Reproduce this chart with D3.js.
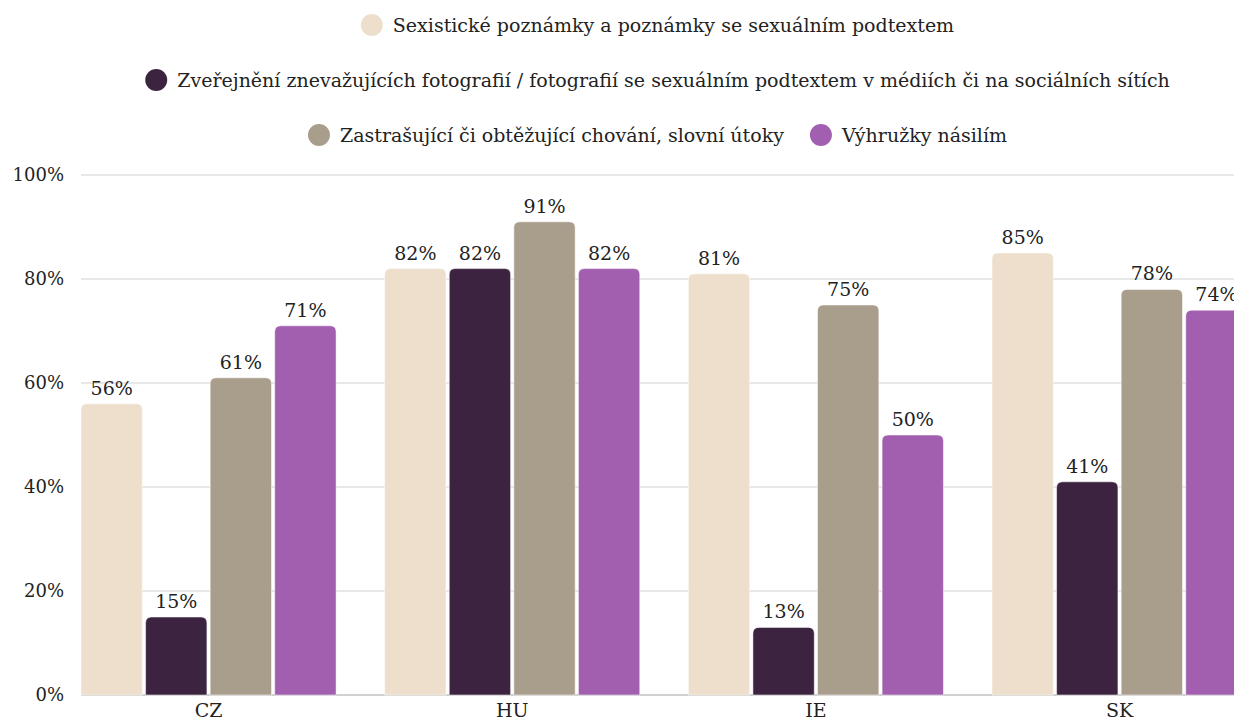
<!DOCTYPE html>
<html>
<head>
<meta charset="utf-8">
<script src="https://cdn.jsdelivr.net/npm/d3@7"></script>
<style>
  html, body { margin: 0; padding: 0; background: #fff; overflow: hidden; }
  svg { display: block; }
  text { font-family: "DejaVu Serif", Georgia, serif; fill: #222; }
</style>
</head>
<body>
<svg id="chart" width="1234" height="724"></svg>
<script>
const categories = ["CZ", "HU", "IE", "SK"];
const seriesNames = [
  "Sexistické poznámky a poznámky se sexuálním podtextem",
  "Zveřejnění znevažujících fotografií / fotografií se sexuálním podtextem v médiích či na sociálních sítích",
  "Zastrašující či obtěžující chování, slovní útoky",
  "Výhružky násilím"
];
const sexistRemarks = [56, 82, 81, 85];
const degradingPhotos = [15, 82, 13, 41];
const intimidation = [61, 91, 75, 78];
const threats = [71, 82, 50, 74];
const yTicks = [0, 20, 40, 60, 80, 100];
const colors = ["#EDDFCC", "#3C2340", "#A99E8C", "#A25EAF"];
const legendRows = [[0], [1], [2, 3]];

const seriesValues = [sexistRemarks, degradingPhotos, intimidation, threats];

(function () {
const svg = d3.select("#chart");
const W = 1234;
const plotLeft = 81, plotBottom = 695, plotTop = 175;
const groupW = 255, step = 303.7;
const x0 = d3.scaleBand().domain(categories)
  .range([plotLeft, plotLeft + 3 * step + groupW]).paddingInner(0.16).paddingOuter(0);
const x1 = d3.scaleBand().domain(d3.range(4)).range([0, x0.bandwidth()]).paddingInner(0.05);
const y = d3.scaleLinear().domain([0, 100]).range([plotBottom, plotTop]);

const fs = 19;
const ff = '"DejaVu Serif", Georgia, serif';

// grid
const grid = svg.append("g");
grid.selectAll("line").data(yTicks).join("line")
  .attr("x1", plotLeft).attr("x2", W)
  .attr("y1", d => y(d)).attr("y2", d => y(d))
  .attr("stroke", d => d === 0 ? "#d0d0d0" : "#e0e0e0").attr("stroke-width", d => d === 0 ? 2 : 1.5);

// y axis labels
const yAxis = d3.axisLeft(y).tickValues(yTicks).tickFormat(d => d + "%").tickSize(0).tickPadding(0);
const ya = svg.append("g").attr("transform", `translate(64,0)`).call(yAxis);
ya.select(".domain").remove();
ya.selectAll("text").style("font-family", ff).style("font-size", "18px").attr("fill", "#222");

// x axis labels
const xAxis = d3.axisBottom(x0).tickSize(0).tickPadding(0);
const xa = svg.append("g").attr("transform", `translate(0,${plotBottom + 8})`).call(xAxis);
xa.select(".domain").remove();
xa.selectAll("text").style("font-family", ff).style("font-size", fs + "px").attr("fill", "#222");

function barPath(x, yTop, w, h, r) {
  r = Math.min(r, h, w / 2);
  return `M${x},${yTop + h}V${yTop + r}Q${x},${yTop} ${x + r},${yTop}H${x + w - r}Q${x + w},${yTop} ${x + w},${yTop + r}V${yTop + h}Z`;
}

const data = [];
categories.forEach((c, ci) => {
  seriesValues.forEach((vals, si) => {
    data.push({ c, si, v: vals[ci] });
  });
});

const bars = svg.append("g");
bars.selectAll("path").data(data).join("path")
  .attr("d", d => {
    const bx = x0(d.c) + x1(d.si);
    return barPath(bx, y(d.v), x1.bandwidth(), y(0) - y(d.v), 6);
  })
  .attr("fill", d => colors[d.si])
  .attr("stroke", "rgba(255,255,255,0.5)").attr("stroke-width", 1);

bars.selectAll("text").data(data).join("text")
  .attr("x", d => x0(d.c) + x1(d.si) + x1.bandwidth() / 2)
  .attr("y", d => y(d.v) - 9)
  .attr("text-anchor", "middle")
  .style("font-size", fs + "px")
  .text(d => d.v + "%");

// legend
const legend = svg.append("g");
const rowY = [25, 80, 135];
const cx = (plotLeft + W) / 2;
const r = 11, gapText = 10, gapItem = 26;
legendRows.forEach((row, ri) => {
  const g = legend.append("g");
  let xPos = 0;
  row.forEach((si, k) => {
    if (k > 0) xPos += gapItem;
    g.append("circle").attr("cx", xPos + r).attr("cy", rowY[ri]).attr("r", r).attr("fill", colors[si]);
    xPos += 2 * r + gapText;
    const t = g.append("text").attr("x", xPos).attr("y", rowY[ri]).attr("dy", "0.35em")
      .style("font-size", fs + "px").text(seriesNames[si]);
    xPos += t.node().getComputedTextLength();
  });
  g.attr("transform", `translate(${cx - xPos / 2},0)`);
});
})();
</script>
</body>
</html>
